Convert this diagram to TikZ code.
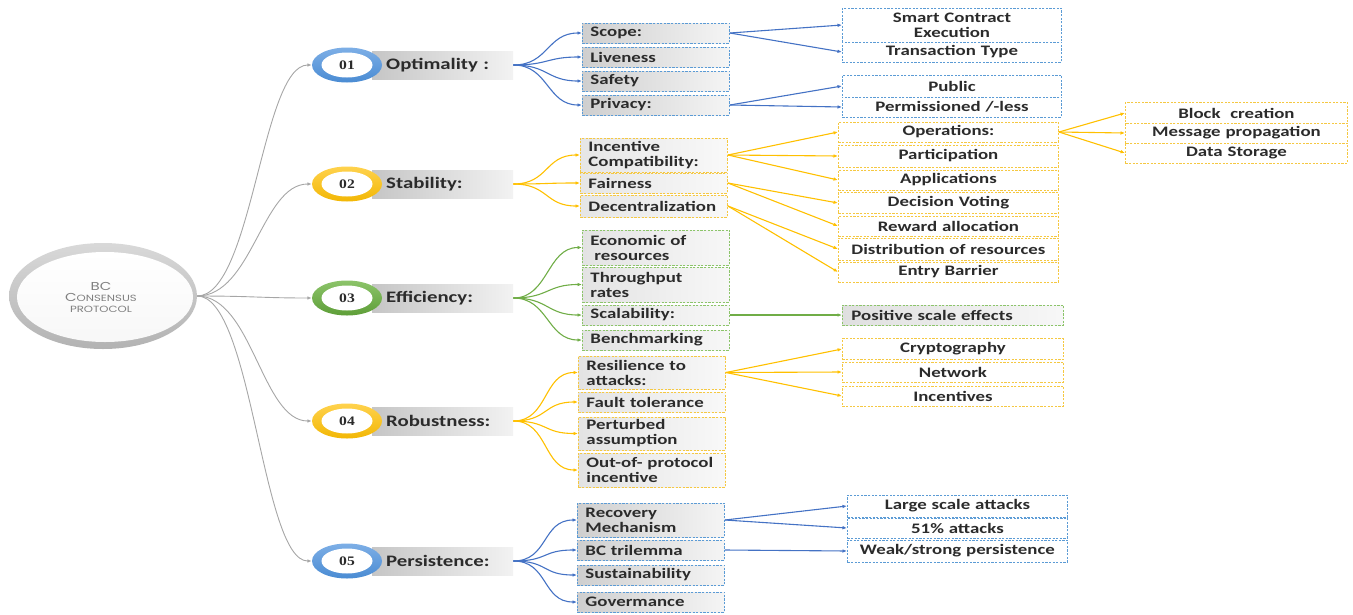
\documentclass[tikz,border=0pt]{standalone}
\usepackage{fontspec}
\setmainfont{Carlito}[FakeStretch=1.3]
\newfontfamily\rootfont{Poppins}[FakeStretch=1.3]
\newfontfamily\numfont{Liberation Serif}[FakeStretch=1.2]
\usetikzlibrary{shapes.geometric,arrows.meta}

\definecolor{bline}{HTML}{4472C4}
\definecolor{bbox}{HTML}{5B9BD5}
\definecolor{yline}{HTML}{FFC000}
\definecolor{ybox}{HTML}{F5C842}
\definecolor{gline}{HTML}{70AD47}
\definecolor{gbox}{HTML}{8CC46A}
\definecolor{rline}{HTML}{A6A6A6}
\definecolor{txt}{HTML}{2B2B2B}
\definecolor{ringB}{HTML}{4A8BD3}
\definecolor{ringBt}{HTML}{7DAFE6}
\definecolor{ringY}{HTML}{F2B705}
\definecolor{ringYt}{HTML}{FFD24D}
\definecolor{ringG}{HTML}{5E9E38}
\definecolor{ringGt}{HTML}{8CC46A}

\tikzset{
  tip/.style={-{Latex[length=4.5pt,width=3.6pt]}},
  bconn/.style={draw=bline, line width=1.1pt, tip},
  yconn/.style={draw=yline, line width=1.1pt, tip},
  gconn/.style={draw=gline, line width=1.1pt, tip},
  rconn/.style={draw=rline, line width=0.9pt, tip},
  dsh/.style={dash pattern=on 2.2pt off 1.4pt, line width=0.9pt},
  boxfont/.style={font=\fontsize{14.5}{15}\selectfont\bfseries, text=txt},
  midbox/.style={dsh, boxfont, anchor=west, text width=131pt, inner xsep=8pt,
    inner ysep=1pt, minimum height=20pt, align=left},
  leafbox/.style={dsh, boxfont, anchor=west, text width=#1, inner xsep=4pt,
    inner ysep=1pt, minimum height=20pt, align=center, fill=white},
  leafbox/.default=211pt,
  catbar/.style={anchor=west, minimum height=28pt, text width=113pt, inner xsep=14pt,
    align=left, text=txt, font=\fontsize{16}{16}\selectfont\bfseries,
    left color=gray!45, right color=gray!10},
  ringout/.style={ellipse, minimum width=70pt, minimum height=35pt, inner sep=0pt},
  ringin/.style={ellipse, minimum width=51pt, minimum height=25pt, inner sep=0pt,
    fill=white, text=txt, font=\numfont\bfseries\fontsize{13}{13}\selectfont},
}

\begin{document}
\begin{tikzpicture}[x=1pt,y=-1pt]
\useasboundingbox (0,0) rectangle (1353,614);

% ---------- root ----------
\node[ellipse, minimum width=188pt, minimum height=106pt, inner sep=0pt,
      top color=gray!30, bottom color=gray!60] (root) at (103,296) {};
\node[ellipse, minimum width=176pt, minimum height=90pt, inner sep=0pt,
      top color=white, bottom color=gray!6] (rootin) at (105,297) {};
\node[align=center, text=black!50, font=\rootfont\fontsize{11.5}{11}\selectfont]
      (roottxt) at (101,297) {BC\\C{\fontsize{9}{11}\selectfont ONSENSUS}\\{\fontsize{9}{11}\selectfont PROTOCOL}};

% ---------- categories ----------
\node[catbar] (lab1) at (372,65)  {Optimality :};
\node[catbar] (lab2) at (372,184) {Stability:};
\node[catbar] (lab3) at (372,298) {Efficiency:};
\node[catbar] (lab4) at (372,421) {Robustness:};
\node[catbar] (lab5) at (372,561) {Persistence:};

\node[ringout, top color=ringBt, bottom color=ringB] (c1) at (347,65)  {};
\node[ringout, top color=ringYt, bottom color=ringY] (c2) at (347,184) {};
\node[ringout, top color=ringGt, bottom color=ringG] (c3) at (347,298) {};
\node[ringout, top color=ringYt, bottom color=ringY] (c4) at (347,421) {};
\node[ringout, top color=ringBt, bottom color=ringB] (c5) at (347,561) {};
\node[ringin] (n1) at (c1) {01};
\node[ringin] (n2) at (c2) {02};
\node[ringin] (n3) at (c3) {03};
\node[ringin] (n4) at (c4) {04};
\node[ringin] (n5) at (c5) {05};

\foreach \c in {c1,c2,c3,c4,c5}
  \draw[rconn] (root.east) .. controls +(55,0) and +(-50,0) .. (\c.west);

% ---------- Optimality ----------
\node[midbox, draw=bbox, left color=gray!38, right color=gray!8] (scope) at (582,33)  {Scope:};
\node[midbox, draw=bbox, left color=gray!38, right color=gray!8] (live)  at (582,57)  {Liveness};
\node[midbox, draw=bbox, left color=gray!38, right color=gray!8] (safe)  at (582,81)  {Safety};
\node[midbox, draw=bbox, left color=gray!38, right color=gray!8] (priv)  at (582,105) {Privacy:};

\node[leafbox, draw=bbox, minimum height=34pt] (sce) at (842,25) {Smart Contract\\Execution};
\node[leafbox, draw=bbox] (tt)   at (842,52)  {Transaction Type};
\node[leafbox, draw=bbox, minimum height=22pt] (pub)  at (842,86)  {Public};
\node[leafbox, draw=bbox] (perm) at (842,107) {Permissioned /-less};

\foreach \t in {scope,live,safe,priv}
  \draw[bconn] (lab1.east) .. controls +(35,0) and +(-35,0) .. (\t.west);
\draw[bconn] (scope.east) -- (sce.west);
\draw[bconn] (scope.east) -- (tt.west);
\draw[bconn] (priv.east) -- (pub.west);
\draw[bconn] (priv.east) -- (perm.west);

% ---------- Stability ----------
\node[midbox, draw=ybox, left color=gray!20, right color=gray!5, minimum height=34pt] (inc) at (580,155) {Incentive\\Compatibility:};
\node[midbox, draw=ybox, left color=gray!20, right color=gray!5] (fair) at (580,183) {Fairness};
\node[midbox, draw=ybox, left color=gray!20, right color=gray!5, minimum height=22pt] (dec) at (580,206) {Decentralization};

\node[leafbox=212pt, draw=ybox] (ops)  at (838,132) {Operations:};
\node[leafbox=212pt, draw=ybox, minimum height=22pt] (part) at (838,156) {Participation};
\node[leafbox=212pt, draw=ybox] (app)  at (838,180) {Applications};
\node[leafbox=212pt, draw=ybox, minimum height=21pt] (vote) at (838,203) {Decision Voting};
\node[leafbox=212pt, draw=ybox] (rew)  at (838,226) {Reward allocation};
\node[leafbox=212pt, draw=ybox, minimum height=22pt] (dist) at (838,249) {Distribution of resources};
\node[leafbox=212pt, draw=ybox] (entry) at (838,272) {Entry Barrier};

\node[leafbox=214pt, draw=ybox, minimum height=21pt] (blk)  at (1125,113) {Block\ \ creation};
\node[leafbox=214pt, draw=ybox] (msg)  at (1125,133) {Message propagation};
\node[leafbox=214pt, draw=ybox] (data) at (1125,153) {Data Storage};

\foreach \t in {inc,fair,dec}
  \draw[yconn] (lab2.east) .. controls +(35,0) and +(-35,0) .. (\t.west);
\foreach \t in {ops,part,app}
  \draw[yconn] (inc.east) -- (\t.west);
\foreach \t in {vote,rew}
  \draw[yconn] (fair.east) -- (\t.west);
\foreach \t in {dist,entry}
  \draw[yconn] (dec.east) -- (\t.west);
\foreach \t in {blk,msg,data}
  \draw[yconn] (ops.east) -- (\t.west);

% ---------- Efficiency ----------
\node[midbox, draw=gbox, left color=gray!22, right color=gray!6, minimum height=35pt] (eco) at (582,247.5) {Economic of\\\hspace*{4pt}resources};
\node[midbox, draw=gbox, left color=gray!22, right color=gray!6, minimum height=35pt] (thr) at (582,284.5) {Throughput\\rates};
\node[midbox, draw=gbox, left color=gray!22, right color=gray!6] (scal)  at (582,315) {Scalability:};
\node[midbox, draw=gbox, left color=gray!22, right color=gray!6] (bench) at (582,340) {Benchmarking};

\node[dsh, boxfont, draw=gbox, anchor=west, text width=203pt, inner xsep=9pt, inner ysep=1pt,
      minimum height=20pt, align=left, left color=gray!25, right color=gray!6] (pos) at (842,315) {Positive scale effects};

\foreach \t in {eco,thr,scal,bench}
  \draw[gconn] (lab3.east) .. controls +(35,0) and +(-35,0) .. (\t.west);
\draw[gconn, line width=1.3pt] (scal.east) -- (pos.west);

% ---------- Robustness ----------
\node[midbox, draw=ybox, left color=gray!22, right color=gray!5, minimum height=33pt] (res) at (578,372.5) {Resilience to\\attacks:};
\node[midbox, draw=ybox, left color=gray!22, right color=gray!5] (fault) at (578,402) {Fault tolerance};
\node[midbox, draw=ybox, left color=gray!22, right color=gray!5, minimum height=33pt] (pert) at (578,433.5) {Perturbed\\assumption};
\node[midbox, draw=ybox, left color=gray!22, right color=gray!5, minimum height=34pt] (oop) at (578,470) {Out-of- protocol\\incentive};

\node[leafbox=213pt, draw=ybox, minimum height=21pt] (cry)  at (842,349) {Cryptography};
\node[leafbox=213pt, draw=ybox] (net)  at (842,372) {Network};
\node[leafbox=213pt, draw=ybox] (incv) at (842,396) {Incentives};

\foreach \t in {res,fault,pert,oop}
  \draw[yconn] (lab4.east) .. controls +(35,0) and +(-35,0) .. (\t.west);
\foreach \t in {cry,net,incv}
  \draw[yconn] (res.east) -- (\t.west);

% ---------- Persistence ----------
\node[midbox, draw=bbox, left color=gray!38, right color=gray!8, minimum height=34pt] (rec) at (577,520) {Recovery\\Mechanism};
\node[midbox, draw=bbox, left color=gray!38, right color=gray!8] (tri) at (577,550) {BC trilemma};
\node[midbox, draw=bbox, left color=gray!38, right color=gray!8] (sus) at (577,575) {Sustainability};
\node[midbox, draw=bbox, left color=gray!38, right color=gray!8] (gov) at (577,602) {Govermance};

\node[leafbox=212pt, draw=bbox, minimum height=22pt] (lsa)  at (847,506) {Large scale attacks};
\node[leafbox=212pt, draw=bbox] (f51)  at (847,528) {51\% attacks};
\node[leafbox=212pt, draw=bbox, minimum height=22pt] (weak) at (847,551) {Weak/strong persistence};

\foreach \t in {rec,tri,sus,gov}
  \draw[bconn] (lab5.east) .. controls +(35,0) and +(-35,0) .. (\t.west);
\draw[bconn] (rec.east) -- (lsa.west);
\draw[bconn] (rec.east) -- (f51.west);
\draw[bconn] (tri.east) -- (weak.west);
\end{tikzpicture}
\end{document}
